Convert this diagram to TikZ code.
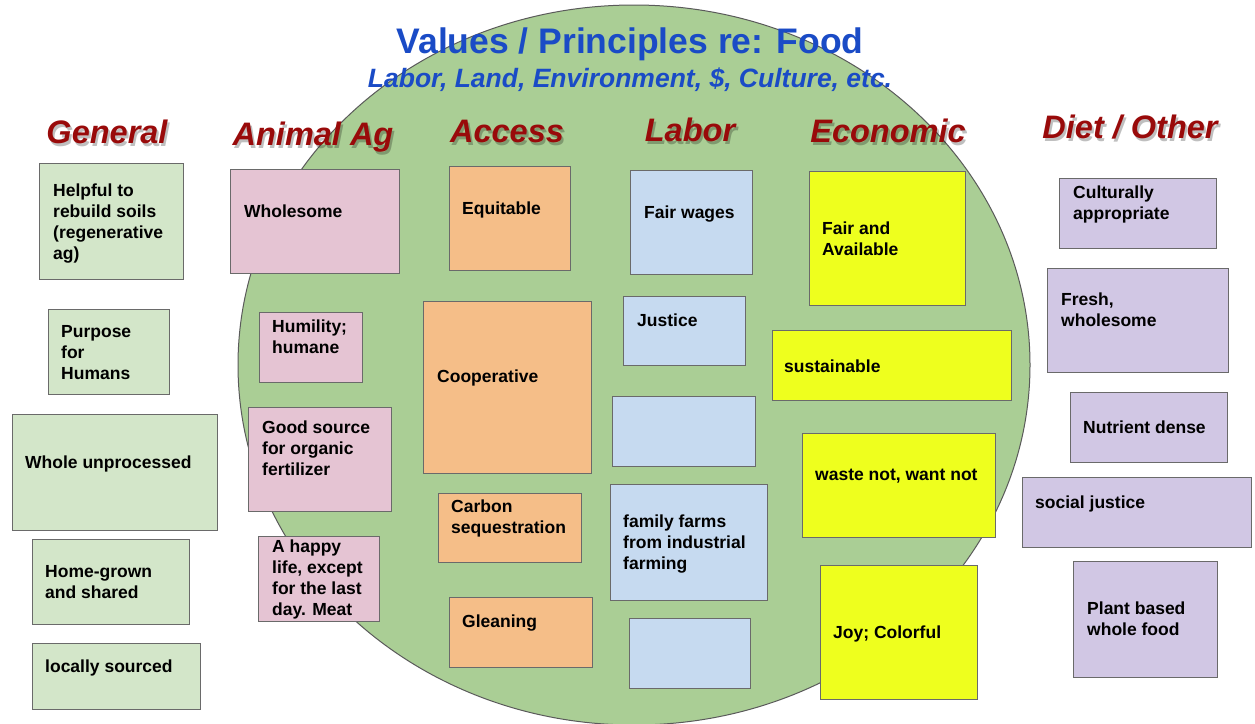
\documentclass[tikz,border=0pt]{standalone}
\usepackage{fontspec}
\setmainfont{Liberation Sans}
\usepackage{tikz}
\usetikzlibrary{positioning}

\definecolor{circlegreen}{HTML}{AACE95}
\definecolor{circleline}{HTML}{5A5A5A}
\definecolor{boxline}{HTML}{6A6A6A}
\definecolor{titleblue}{HTML}{1A4BC6}
\definecolor{headred}{HTML}{990A0A}
\definecolor{cgreen}{HTML}{D3E6C9}
\definecolor{cpink}{HTML}{E5C4D3}
\definecolor{corange}{HTML}{F5BE88}
\definecolor{cblue}{HTML}{C6DAF0}
\definecolor{cyellow}{HTML}{EEFF1E}
\definecolor{cpurple}{HTML}{D1C7E4}

% one sticky note: #1 = name, #2 = fill, #3,#4 = top left, #5,#6 = width/height,
% #7,#8 = baseline start of the first line, #9 = text
\newcommand{\card}[9]{%
\node[cardbox, fill=#2, minimum width=#5pt, minimum height=#6pt] (#1) at (#3,#4) {};
\node[cardtext] (#1-txt) at (#7,#8) {\begin{tabular}[t]{@{}l@{}}#9\end{tabular}};
}

% column heading with a soft shadow
\newcommand{\header}[4]{%
\node[headshadow] (#1-sh) at (#2+2,#3+3) {#4};
\node[headtext] (#1) at (#2,#3) {#4};
}

\begin{document}
\begin{tikzpicture}[
    x=1pt, y=-1pt,
    cardbox/.style={rectangle, draw=boxline, line width=1.3pt, anchor=north west, inner sep=0pt},
    cardtext/.style={anchor=base west, inner sep=0pt,
        font=\bfseries\fontsize{17.5}{21}\selectfont},
    headtext/.style={anchor=base, inner sep=0pt, text=headred,
        font=\bfseries\itshape\fontsize{32.5}{38}\selectfont},
    headshadow/.style={headtext, text=black, opacity=0.25}
]
\useasboundingbox[fill=white] (0,0) rectangle (1255,723);

% the big circle behind the middle columns
\draw[fill=circlegreen, draw=circleline, line width=1pt] (634,365) ellipse [x radius=396pt, y radius=360pt];

\node[anchor=base, inner sep=0pt, text=titleblue, font=\bfseries\fontsize{35.5}{40}\selectfont]
    (title) at (630,53) {Values / Principles re: Food};
\node[anchor=base, inner sep=0pt, text=titleblue, font=\bfseries\itshape\fontsize{26.5}{30}\selectfont]
    (subtitle) at (630,87) {Labor, Land, Environment, \$, Culture, etc.};

\header{hgen}{107}{143}{General}
\header{hani}{313}{145}{Animal Ag}
\header{hacc}{507}{142}{Access}
\header{hlab}{690}{141}{Labor}
\header{heco}{888}{142}{Economic}
\header{hdiet}{1130}{138}{Diet / Other}

% General
\card{gen1}{cgreen}{39}{163}{144}{116}{53}{196}{Helpful to\\rebuild soils\\(regenerative\\ag)}
\card{gen2}{cgreen}{48}{309}{121}{85}{61}{337}{Purpose\\for\\Humans}
\card{gen3}{cgreen}{12}{414}{205}{116}{25}{468}{Whole unprocessed}
\card{gen4}{cgreen}{32}{539}{157}{85}{45}{577}{Home-grown\\and shared}
\card{gen5}{cgreen}{32}{643}{168}{66}{45}{672}{locally sourced}

% Animal Ag
\card{ani1}{cpink}{230}{169}{169}{104}{244}{217}{Wholesome}
\card{ani2}{cpink}{259}{312}{103}{70}{272}{332}{Humility;\\humane}
\card{ani3}{cpink}{248}{407}{143}{104}{262}{433}{Good source\\for organic\\fertilizer}
\card{ani4}{cpink}{258}{536}{121}{85}{272}{552}{A happy\\life, except\\for the last\\day. Meat}

% Access
\card{acc1}{corange}{449}{166}{121}{104}{462}{214}{Equitable}
\card{acc2}{corange}{423}{301}{168}{172}{437}{382}{Cooperative}
\card{acc3}{corange}{438}{493}{143}{69}{451}{512}{Carbon\\sequestration}
\card{acc4}{corange}{449}{597}{143}{70}{462}{627}{Gleaning}

% Labor
\card{lab1}{cblue}{630}{170}{122}{104}{644}{218}{Fair wages}
\card{lab2}{cblue}{623}{296}{122}{69}{637}{326}{Justice}
\card{lab3}{cblue}{612}{396}{143}{70}{626}{426}{}
\card{lab4}{cblue}{610}{484}{157}{116}{623}{527}{family farms\\from industrial\\farming}
\card{lab5}{cblue}{629}{618}{121}{70}{643}{648}{}

% Economic
\card{eco1}{cyellow}{809}{171}{156}{134}{822}{234}{Fair and\\Available}
\card{eco2}{cyellow}{772}{330}{239}{70}{784}{372}{sustainable}
\card{eco3}{cyellow}{802}{433}{193}{104}{815}{480}{waste not, want not}
\card{eco4}{cyellow}{820}{565}{157}{134}{833}{638}{Joy; Colorful}

% Diet / Other
\card{diet1}{cpurple}{1059}{178}{157}{70}{1073}{198}{Culturally\\appropriate}
\card{diet2}{cpurple}{1047}{268}{181}{104}{1061}{305}{Fresh,\\wholesome}
\card{diet3}{cpurple}{1070}{392}{157}{70}{1083}{433}{Nutrient dense}
\card{diet4}{cpurple}{1022}{477}{229}{70}{1035}{508}{social justice}
\card{diet5}{cpurple}{1073}{561}{144}{116}{1087}{614}{Plant based\\whole food}
\end{tikzpicture}
\end{document}
